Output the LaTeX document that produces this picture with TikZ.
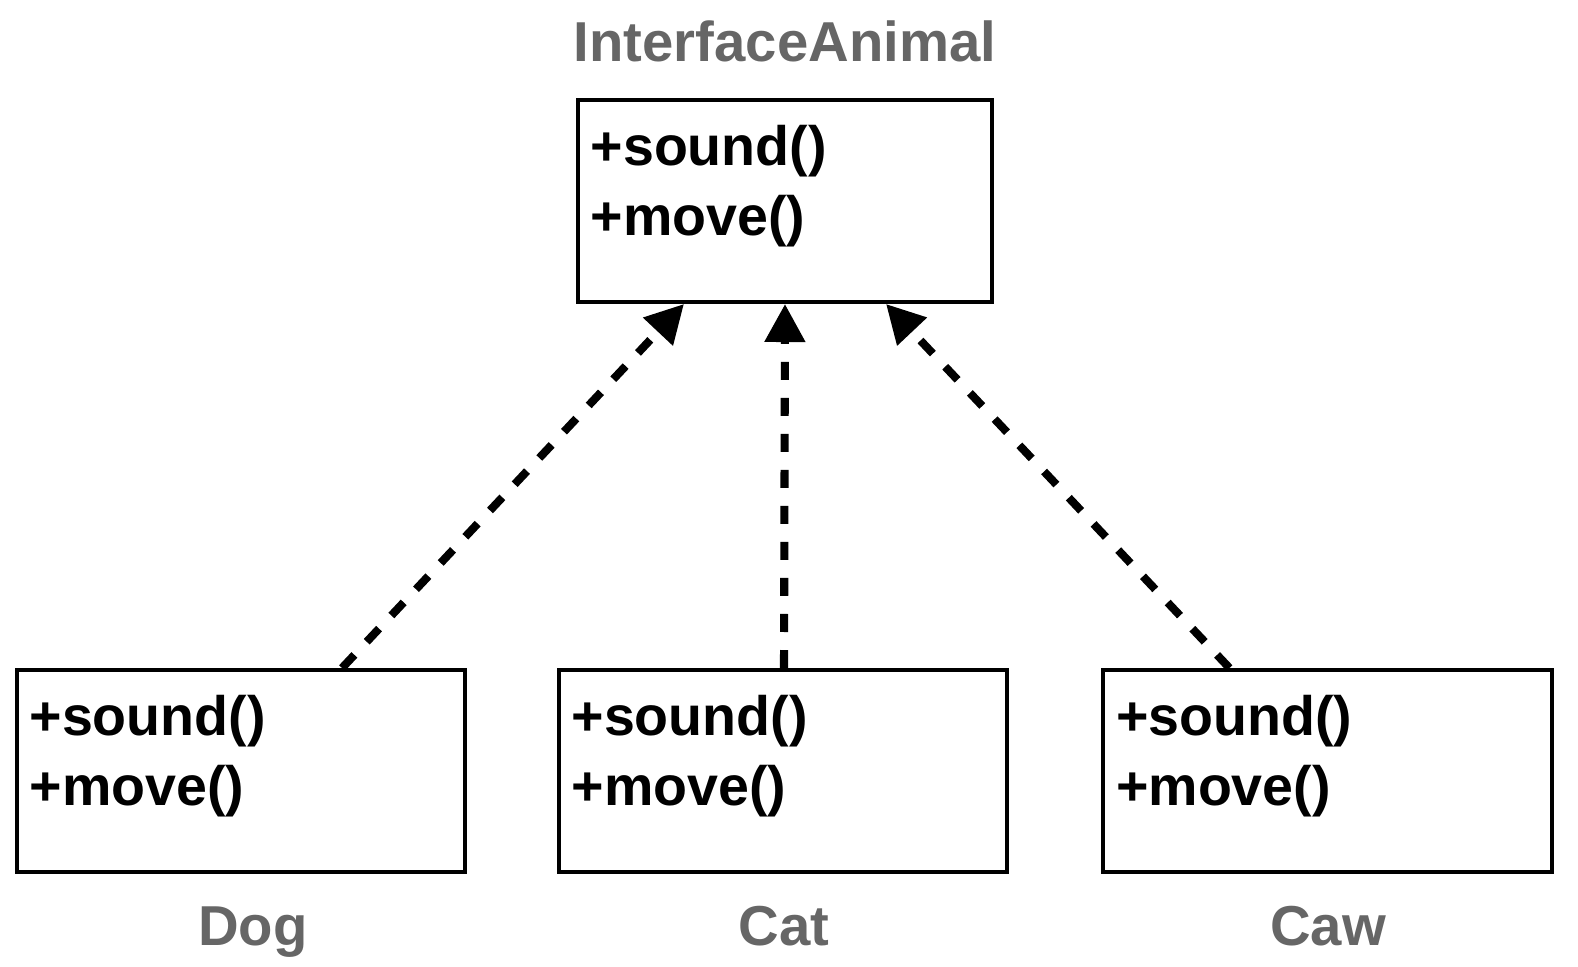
\documentclass[tikz,border=0pt]{standalone}
\usepackage{fontspec}
\setmainfont{Liberation Sans}
\usetikzlibrary{arrows.meta,positioning}
\definecolor{labelgray}{HTML}{666666}
\tikzstyle{classbox}=[draw, line width=1.1pt, minimum width=4.48cm, minimum height=2.02cm, inner sep=0pt]
\tikzset{ops/.style={anchor=base west, align=left, inner sep=0pt,
      font=\bfseries\fontsize{15.8}{19.9}\selectfont},
  classname/.style={anchor=base, inner sep=0pt, text=labelgray,
      font=\bfseries\fontsize{16}{19}\selectfont},
  realizes/.style={line width=2.3pt, dash pattern=on 0.18cm off 0.18cm,
      -{Triangle[length=0.38cm,width=0.39cm]}}}

\begin{document}
\begin{tikzpicture}[x=0.01cm, y=-0.01cm]
    \useasboundingbox (0,0) rectangle (1578,966);
    \node[classbox, minimum width=4.14cm] (animal) at (785,201) {};
    \node[classbox] (dog) at (241,771) {};
    \node[classbox] (cat) at (783,771) {};
    \node[classbox] (caw) at (1327.5,771) {};
    % base anchor sits on the last line
    \node[ops] (animalops) at ([shift={(0.14cm,-1.37cm)}]animal.north west) {+sound()\\+move()};
    \node[ops] (dogops) at ([shift={(0.14cm,-1.37cm)}]dog.north west) {+sound()\\+move()};
    \node[ops] (catops) at ([shift={(0.14cm,-1.37cm)}]cat.north west) {+sound()\\+move()};
    \node[ops] (cawops) at ([shift={(0.14cm,-1.37cm)}]caw.north west) {+sound()\\+move()};
    \node[classname] (animalname) at (785,61) {InterfaceAnimal};
    \node[classname] (dogname) at (253,945) {Dog};
    \node[classname] (catname) at (784,945) {Cat};
    \node[classname] (cawname) at (1328,945) {Caw};
    \draw[realizes] ([xshift=1.01cm]dog.north) -- ([xshift=-1.01cm]animal.south);
    \draw[realizes] ([xshift=0.01cm]cat.north) -- (animal.south);
    \draw[realizes] ([xshift=-0.98cm]caw.north) -- ([xshift=1.01cm]animal.south);
  \end{tikzpicture}
\end{document}
